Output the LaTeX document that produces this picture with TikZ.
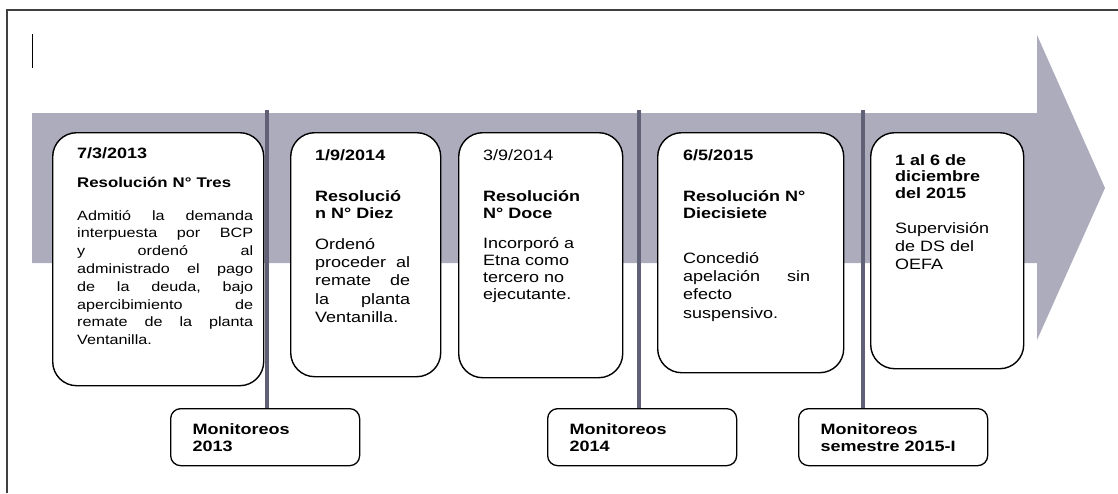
\documentclass[tikz,border=0pt]{standalone}
\usepackage{fontspec}
\setmainfont{Liberation Sans}[FakeStretch=1.2]
\usetikzlibrary{positioning}

\definecolor{bandgray}{RGB}{172,172,189}
\definecolor{tickgray}{RGB}{96,96,118}

\begin{document}
\begin{tikzpicture}[
  x=1pt, y=-1pt,
  event/.style={draw, line width=1.4pt, rounded corners=24pt, fill=white, anchor=north west},
  monbox/.style={draw, line width=1.3pt, rounded corners=10pt, fill=white, anchor=north west,
    minimum width=189pt, minimum height=57pt, inner xsep=22pt, text width=145pt, align=left,
    font=\fontsize{15}{17}\selectfont\bfseries},
  evhead/.style={anchor=north west, inner sep=0pt, align=left, font=\fontsize{15}{17}\selectfont\bfseries},
  evbody/.style={anchor=north west, inner sep=0pt, align=left, font=\fontsize{15}{18.3}\selectfont},
  tick/.style={draw=tickgray, line width=3.4pt}
]
\useasboundingbox (0,0) rectangle (1118,493);

% page frame and cursor
\draw[line width=1.5pt, black!75] (7,493) -- (7,10) -- (1118,10);
\draw[line width=1pt] (32,34) -- (32,68);

% timeline arrow
\fill[bandgray] (32,113) -- (1037,113) -- (1037,35) -- (1105,188)
  -- (1037,340) -- (1037,263) -- (32,263) -- cycle;

% monitoring boxes
\node[monbox] (m1) at (170,408) {Monitoreos\\2013};
\node[monbox] (m2) at (547,408) {Monitoreos\\2014};
\node[monbox] (m3) at (798,408) {Monitoreos\\semestre 2015-I};

% ticks down to the monitoring boxes
\coordinate (c1) at (267,110);
\coordinate (c2) at (639,110);
\coordinate (c3) at (863,110);
\draw[tick] (c1) -- (c1 |- m1.north);
\draw[tick] (c2) -- (c2 |- m2.north);
\draw[tick] (c3) -- (c3 |- m3.north);

% event boxes
\node[event, minimum width=211pt, minimum height=253pt] (b1) at (52,132) {};
\node[event, minimum width=150pt, minimum height=244pt] (b2) at (290,132) {};
\node[event, minimum width=164pt, minimum height=245pt] (b3) at (458,132) {};
\node[event, minimum width=186pt, minimum height=240pt] (b4) at (657,132) {};
\node[event, minimum width=153pt, minimum height=236pt] (b5) at (870,132) {};

% 7/3/2013
\node[evhead, text width=176pt] (b1d) at (77,147) {7/3/2013\\[12pt]\fontsize{14}{17}\selectfont Resolución N° Tres};
\node[evbody, text width=176pt, font=\fontsize{13.5}{17.8}\selectfont] (b1t) at (77,210) {%
  Admitió\hfill la\hfill demanda\\
  interpuesta\hfill por\hfill BCP\\
  y\hfill ordenó\hfill al\\
  administrado\hfill el\hfill pago\\
  de\hfill la\hfill deuda,\hfill bajo\\
  apercibimiento\hfill de\\
  remate\hfill de\hfill la\hfill planta\\
  Ventanilla.};

% 1/9/2014
\node[evhead, text width=100pt] (b2d) at (315,149) {1/9/2014\\[24pt]Resolució\\n N° Diez};
\node[evbody, text width=95pt] (b2t) at (315,238) {%
  Ordenó\\
  proceder\hfill al\\
  remate\hfill de\\
  la\hfill planta\\
  Ventanilla.};

% 3/9/2014
\node[evhead, text width=110pt] (b3d) at (483,149) {\mdseries 3/9/2014\\[24pt]\bfseries Resolución\\N° Doce};
\node[evbody, text width=110pt, font=\fontsize{15}{17}\selectfont] (b3t) at (483,237) {%
  Incorporó a\\
  Etna como\\
  tercero no\\
  ejecutante.};

% 6/5/2015
\node[evhead, text width=130pt] (b4d) at (683,149) {6/5/2015\\[24pt]Resolución N°\\Diecisiete};
\node[evbody, text width=127pt] (b4t) at (683,252) {%
  Concedió\\
  apelación\hfill sin\\
  efecto\\
  suspensivo.};

% 1 al 6 de diciembre
\node[evhead, text width=110pt, font=\fontsize{15}{16.5}\selectfont\bfseries] (b5d) at (895,154) {1 al 6 de\\diciembre\\del 2015};
\node[evbody, text width=110pt, font=\fontsize{15}{18}\selectfont] (b5t) at (895,222) {%
  Supervisión\\
  de DS del\\
  OEFA};
\end{tikzpicture}
\end{document}
